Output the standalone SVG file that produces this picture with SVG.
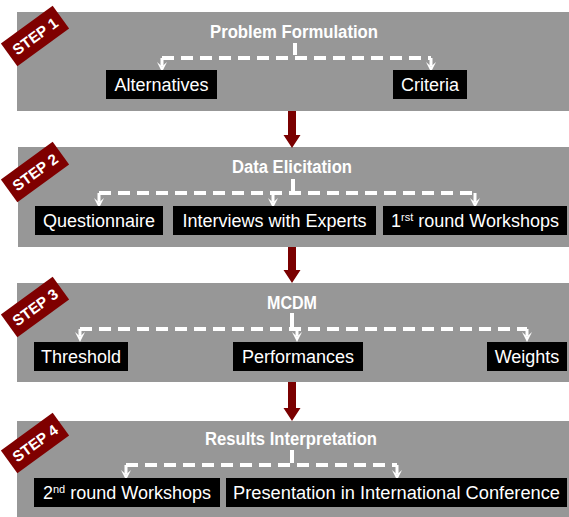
<svg xmlns="http://www.w3.org/2000/svg" xmlns:xlink="http://www.w3.org/1999/xlink" width="569" height="517" viewBox="0 0 569 517">
  <style>
    .panel { fill: #979797; }
    .badge { fill: #7f0000; }
    .badge-text { font-family: "Liberation Sans", Arial, sans-serif; font-weight: bold; font-size: 15px; fill: #ffffff; }
    .title { font-family: "Liberation Sans", Arial, sans-serif; font-weight: bold; font-size: 18px; fill: #ffffff; text-anchor: middle; }
    .box { fill: #000000; }
    .label { font-family: "Liberation Sans", Arial, sans-serif; font-size: 18px; fill: #ffffff; text-anchor: middle; }
    .sup { font-size: 11px; }
    .dash { fill: none; stroke: #ffffff; stroke-width: 4; stroke-dasharray: 12 7; }
    .stem { fill: none; stroke: #ffffff; stroke-width: 4; }
    .drop { fill: none; stroke: #ffffff; stroke-width: 3; }
    .flow { fill: #7a0000; }
  </style>
  <defs>
    <!-- small notched white arrowhead, tip at origin, pointing down -->
    <path id="head" d="M-5,-10 L0,-5.5 L5,-10 L0,0 Z" fill="#ffffff"/>
  </defs>

  <!-- step panels -->
  <g id="step1">
    <rect class="panel" x="17" y="12" width="552" height="99"/>
    <g transform="translate(35,36) rotate(-36)">
      <rect class="badge" x="-32" y="-14" width="64" height="28"/>
      <text class="badge-text" x="0" y="5.5" text-anchor="middle" textLength="52" lengthAdjust="spacingAndGlyphs">STEP 1</text>
    </g>
    <text class="title" x="294" y="38" textLength="168" lengthAdjust="spacingAndGlyphs">Problem Formulation</text>
  </g>
  <g id="step2">
    <rect class="panel" x="18" y="147" width="551" height="100"/>
    <g transform="translate(35,172) rotate(-36)">
      <rect class="badge" x="-32" y="-14" width="64" height="28"/>
      <text class="badge-text" x="0" y="5.5" text-anchor="middle" textLength="52" lengthAdjust="spacingAndGlyphs">STEP 2</text>
    </g>
    <text class="title" x="292" y="173" textLength="120" lengthAdjust="spacingAndGlyphs">Data Elicitation</text>
  </g>
  <g id="step3">
    <rect class="panel" x="17" y="283" width="552" height="99"/>
    <g transform="translate(35,307) rotate(-36)">
      <rect class="badge" x="-32" y="-14" width="64" height="28"/>
      <text class="badge-text" x="0" y="5.5" text-anchor="middle" textLength="52" lengthAdjust="spacingAndGlyphs">STEP 3</text>
    </g>
    <text class="title" x="292" y="309" textLength="50" lengthAdjust="spacingAndGlyphs">MCDM</text>
  </g>
  <g id="step4">
    <rect class="panel" x="17" y="421" width="552" height="100"/>
    <g transform="translate(35,443) rotate(-36)">
      <rect class="badge" x="-32" y="-14" width="64" height="28"/>
      <text class="badge-text" x="0" y="5.5" text-anchor="middle" textLength="52" lengthAdjust="spacingAndGlyphs">STEP 4</text>
    </g>
    <text class="title" x="291" y="445" textLength="172" lengthAdjust="spacingAndGlyphs">Results Interpretation</text>
  </g>

  <!-- connectors -->
  <g id="connectors">
    <!-- step 1 branches -->
    <path class="stem" d="M295,43 V55"/>
    <path class="dash" d="M162,58 H431"/>
    <path class="drop" d="M162,58 V66 M431,58 V66"/>
    <use xlink:href="#head" x="162" y="72"/>
    <use xlink:href="#head" x="431" y="72"/>
    <!-- step 2 branches -->
    <path class="stem" d="M293,179 V191"/>
    <path class="dash" d="M99,193 H475"/>
    <path class="drop" d="M99,193 V202 M273,193 V202 M475,193 V202"/>
    <use xlink:href="#head" x="99" y="208"/>
    <use xlink:href="#head" x="273" y="208"/>
    <use xlink:href="#head" x="475" y="208"/>
    <!-- step 3 branches -->
    <path class="stem" d="M292,313 V327"/>
    <path class="dash" d="M80,329 H527"/>
    <path class="drop" d="M80,329 V336 M297,329 V336 M527,329 V336"/>
    <use xlink:href="#head" x="80" y="342"/>
    <use xlink:href="#head" x="297" y="342"/>
    <use xlink:href="#head" x="527" y="342"/>
    <!-- step 4 branches -->
    <path class="stem" d="M292,450 V463"/>
    <path class="dash" d="M126,465 H397"/>
    <path class="drop" d="M126,465 V474 M397,465 V474"/>
    <use xlink:href="#head" x="126" y="480"/>
    <use xlink:href="#head" x="397" y="480"/>
    <!-- flow between steps -->
    <path class="flow" d="M288,111 H296 V135 H300.5 L292,148 L283.5,135 H288 Z"/>
    <path class="flow" d="M288,247 H296 V270 H300.5 L292,283 L283.5,270 H288 Z"/>
    <path class="flow" d="M288,382 H296 V408 H300.5 L292,421 L283.5,408 H288 Z"/>
  </g>

  <!-- step 1 items -->
  <g id="alternatives">
    <rect class="box" x="106" y="70" width="111" height="29"/>
    <text class="label" x="161.5" y="91">Alternatives</text>
  </g>
  <g id="criteria">
    <rect class="box" x="393" y="70" width="74" height="29"/>
    <text class="label" x="430" y="91">Criteria</text>
  </g>

  <!-- step 2 items -->
  <g id="questionnaire">
    <rect class="box" x="35" y="206" width="128" height="29"/>
    <text class="label" x="99" y="227">Questionnaire</text>
  </g>
  <g id="interviews">
    <rect class="box" x="173" y="206" width="203" height="29"/>
    <text class="label" x="274.5" y="227">Interviews with Experts</text>
  </g>
  <g id="workshops1">
    <rect class="box" x="383" y="206" width="184" height="29"/>
    <text class="label" x="475" y="227">1<tspan class="sup" dy="-6">rst</tspan><tspan dy="6"> round Workshops</tspan></text>
  </g>

  <!-- step 3 items -->
  <g id="threshold">
    <rect class="box" x="34" y="342" width="94" height="29"/>
    <text class="label" x="81" y="363">Threshold</text>
  </g>
  <g id="performances">
    <rect class="box" x="233" y="342" width="130" height="29"/>
    <text class="label" x="298" y="363">Performances</text>
  </g>
  <g id="weights">
    <rect class="box" x="487" y="342" width="80" height="29"/>
    <text class="label" x="527" y="363">Weights</text>
  </g>

  <!-- step 4 items -->
  <g id="workshops2">
    <rect class="box" x="34" y="478" width="186" height="29"/>
    <text class="label" x="127" y="499">2<tspan class="sup" dy="-6">nd</tspan><tspan dy="6"> round Workshops</tspan></text>
  </g>
  <g id="conference">
    <rect class="box" x="226" y="478" width="341" height="29"/>
    <text class="label" x="396.5" y="499" textLength="327" lengthAdjust="spacingAndGlyphs">Presentation in International Conference</text>
  </g>
</svg>
